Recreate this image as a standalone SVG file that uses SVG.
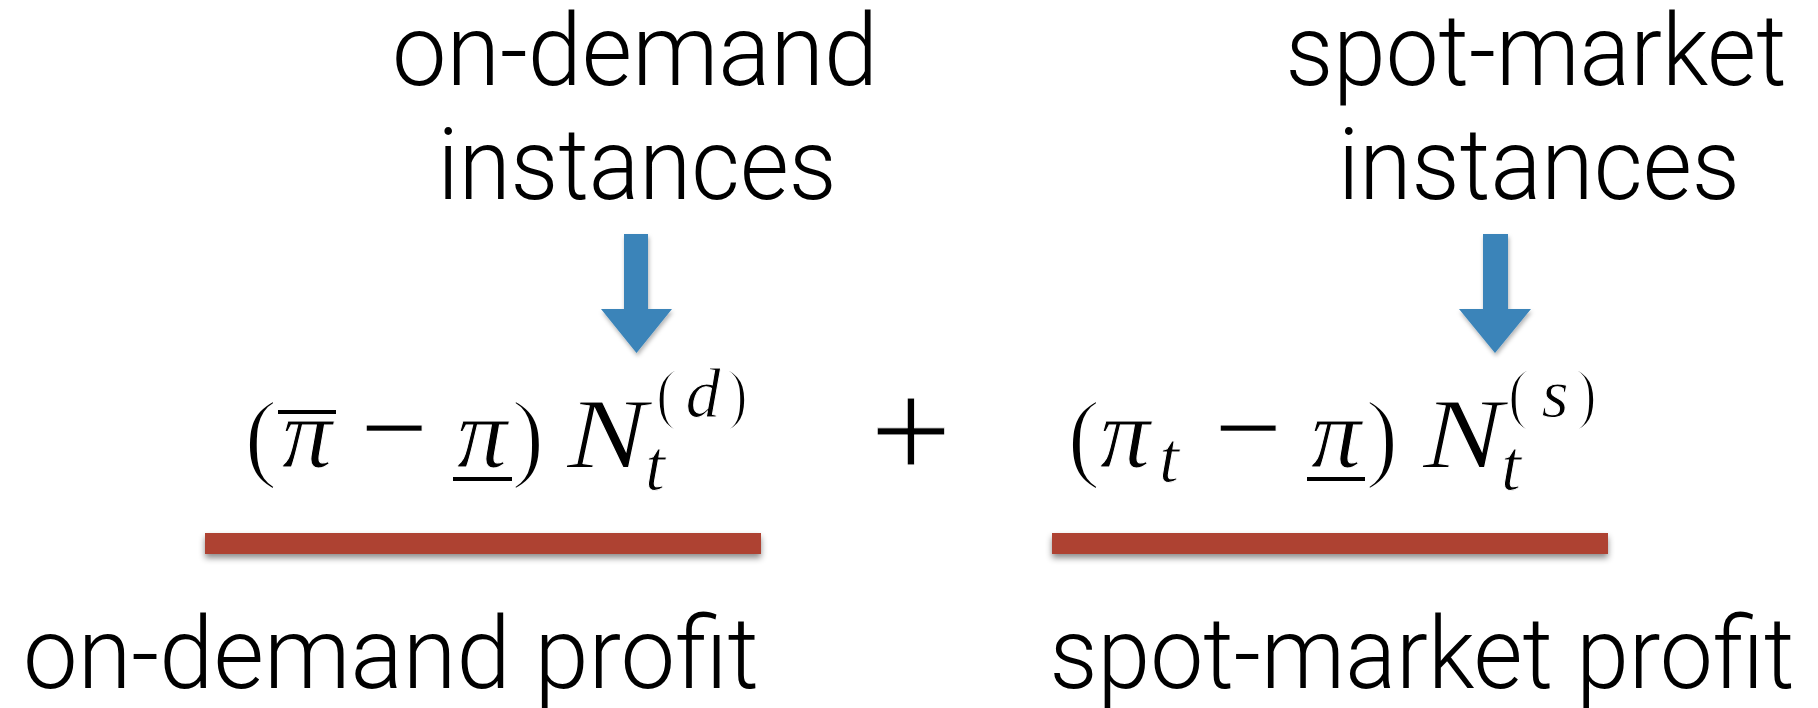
<svg xmlns="http://www.w3.org/2000/svg" width="1818" height="708" viewBox="0 0 1818 708">
  <defs>
    <filter id="barShadow" x="-5%" y="-50%" width="110%" height="250%">
      <feDropShadow dx="0" dy="4" stdDeviation="3" flood-color="#000" flood-opacity="0.45"/>
    </filter>
    <filter id="arrowShadow" x="-30%" y="-20%" width="160%" height="140%">
      <feDropShadow dx="1" dy="3" stdDeviation="2" flood-color="#000" flood-opacity="0.3"/>
    </filter>
  </defs>
  <style>
    .lbl { font-family: Roboto, "Liberation Sans", sans-serif; font-weight: 300; font-size: 100px; fill: #000; text-anchor: middle; }
    .m { font-family: "Liberation Serif", "DejaVu Serif", serif; font-size: 100px; fill: #000; text-anchor: middle; stroke: #fff; stroke-width: 1.4px; }
    .mi { font-family: "Liberation Serif", "DejaVu Serif", serif; font-style: italic; font-size: 100px; fill: #000; text-anchor: middle; stroke: #fff; stroke-width: 1px; }
    .thin { stroke-width: 2.6px; }
    .op { font-family: "Liberation Serif", "DejaVu Serif", serif; fill: #000; text-anchor: middle; stroke: #fff; stroke-width: 0.8px; }
    .sub { font-size: 72px; }
    .sup { font-size: 70px; }
    .rule { stroke: #000; stroke-width: 4; }
    .bar { fill: #ae4331; filter: url(#barShadow); }
    .arrow { fill: #3a84b9; filter: url(#arrowShadow); }
  </style>
  <rect width="1818" height="708" fill="#fff"/>

  <g id="label-ondemand-instances">
    <text class="lbl" x="635" y="85" textLength="486" lengthAdjust="spacingAndGlyphs">on-demand</text>
    <text class="lbl" x="637" y="199" textLength="399" lengthAdjust="spacingAndGlyphs">instances</text>
  </g>
  <g id="label-spot-instances">
    <text class="lbl" x="1536" y="85" textLength="501" lengthAdjust="spacingAndGlyphs">spot-market</text>
    <text class="lbl" x="1539" y="199" textLength="402" lengthAdjust="spacingAndGlyphs">instances</text>
  </g>

  <g id="connectors">
    <polygon class="arrow" points="624,234 648,234 648,309 672,309 636.5,353 601,309 624,309"/>
    <polygon class="arrow" points="1483,234 1508,234 1508,309 1531,309 1495,353 1459,309 1483,309"/>
  </g>

  <g id="formula-left">
    <text class="m thin" x="261" y="469" font-size="106">(</text>
    <line class="rule" x1="278" y1="412" x2="336" y2="412"/>
    <text class="mi" x="307" y="467">π</text>
    <text class="op" x="394" y="468" font-size="120">−</text>
    <text class="mi" x="482" y="467">π</text>
    <line class="rule" x1="453" y1="479" x2="512" y2="479"/>
    <text class="m thin" x="528" y="469" font-size="106">)</text>
    <text class="mi" x="607" y="467" textLength="80" lengthAdjust="spacingAndGlyphs">N</text>
    <text class="mi sub" x="655" y="490">t</text>
    <text class="m sup thin" x="667" y="417">(</text>
    <text class="mi sup" x="703" y="417">d</text>
    <text class="m sup thin" x="737" y="417">)</text>
  </g>

  <g id="plus">
    <text class="op" x="911" y="479" font-size="145">+</text>
  </g>

  <g id="formula-right">
    <text class="m thin" x="1084" y="469" font-size="106">(</text>
    <text class="mi" x="1125" y="467">π</text>
    <text class="mi sub" x="1169" y="482">t</text>
    <text class="op" x="1248" y="468" font-size="120">−</text>
    <text class="mi" x="1336" y="467">π</text>
    <line class="rule" x1="1307" y1="479" x2="1365" y2="479"/>
    <text class="m thin" x="1382" y="469" font-size="106">)</text>
    <text class="mi" x="1463" y="467" textLength="80" lengthAdjust="spacingAndGlyphs">N</text>
    <text class="mi sub" x="1511" y="490">t</text>
    <text class="m sup thin" x="1519" y="417">(</text>
    <text class="mi sup" x="1555" y="417">s</text>
    <text class="m sup thin" x="1586" y="417">)</text>
  </g>

  <g id="bar-left">
    <rect class="bar" x="205" y="533" width="556" height="21"/>
  </g>
  <g id="bar-right">
    <rect class="bar" x="1052" y="533" width="556" height="21"/>
  </g>

  <g id="label-ondemand-profit">
    <text class="lbl" x="391" y="688" textLength="736" lengthAdjust="spacingAndGlyphs">on-demand profit</text>
  </g>
  <g id="label-spot-profit">
    <text class="lbl" x="1422" y="688" textLength="745" lengthAdjust="spacingAndGlyphs">spot-market profit</text>
  </g>
</svg>
